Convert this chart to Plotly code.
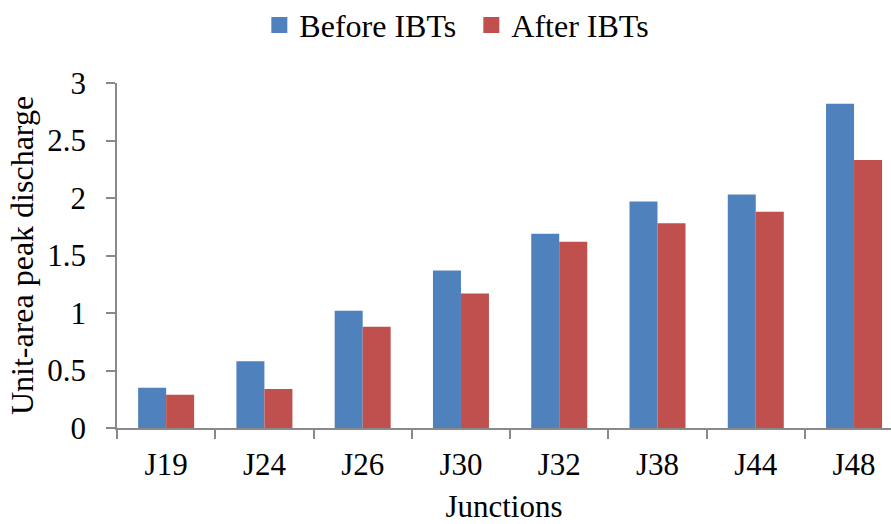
import plotly.graph_objects as go

junctions = ["J19", "J24", "J26", "J30", "J32", "J38", "J44", "J48"]
before_ibts = [0.35, 0.58, 1.02, 1.37, 1.69, 1.97, 2.03, 2.82]
after_ibts = [0.29, 0.34, 0.88, 1.17, 1.62, 1.78, 1.88, 2.33]

BLUE = "#4F81BD"
RED = "#C0504D"
FONT = "Liberation Serif"
AXIS = "#898989"

fig = go.Figure()
fig.add_trace(go.Bar(x=junctions, y=before_ibts, name="Before IBTs",
                     marker=dict(color=BLUE, line=dict(width=0)), showlegend=False))
fig.add_trace(go.Bar(x=junctions, y=after_ibts, name="After IBTs",
                     marker=dict(color=RED, line=dict(width=0)), showlegend=False))
# legend entries with square swatches
for name, col in [("Before IBTs", BLUE), ("After IBTs", RED)]:
    fig.add_trace(go.Scatter(x=[None], y=[None], mode="markers", name=name,
                             marker=dict(symbol="square", size=16, color=col)))

fig.update_layout(
    width=891, height=524,
    margin=dict(l=117, r=0, t=83, b=96),
    paper_bgcolor="white", plot_bgcolor="white",
    font=dict(family=FONT, size=31, color="black"),
    barmode="group", bargap=0.43, bargroupgap=0,
    legend=dict(orientation="h", xref="container", yref="container",
                x=0.529, xanchor="center", y=0.952, yanchor="middle",
                font=dict(size=32), itemwidth=30, tracegroupgap=0,
                entrywidth=167, entrywidthmode="pixels"),
    xaxis=dict(type="category", range=[-0.5, 7.376], showline=True, linecolor=AXIS,
               linewidth=1.5, ticks="outside", tickson="boundaries", ticklen=9,
               tickcolor=AXIS, tickwidth=1.5, showgrid=False, zeroline=False,
               ticklabelstandoff=8,
               title=dict(text="Junctions", font=dict(size=31), standoff=19)),
    yaxis=dict(range=[0, 3], dtick=0.5, tick0=0, showline=True, linecolor=AXIS,
               linewidth=1.5, ticks="outside", ticklen=9, tickcolor=AXIS, tickwidth=1.5,
               showgrid=False, zeroline=False, ticklabelstandoff=14,
               title=dict(text="Unit-area peak discharge", font=dict(size=32), standoff=4)),
)

fig.write_html("out.html")
